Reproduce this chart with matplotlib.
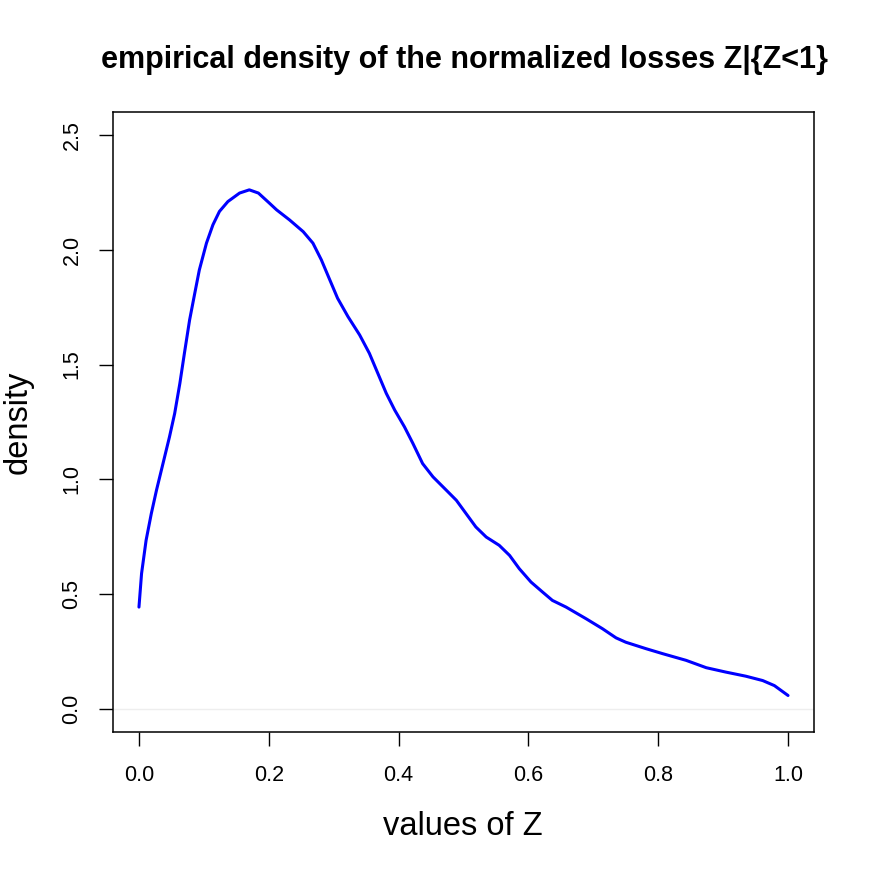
import numpy as np
import matplotlib
matplotlib.use('Agg')
import matplotlib.pyplot as plt

# density curve
z_vals = [0.0, 0.004, 0.011, 0.019, 0.027, 0.037, 0.047, 0.055, 0.063, 0.070,
          0.078, 0.086, 0.093, 0.104, 0.114, 0.124, 0.137, 0.155, 0.170, 0.184,
          0.201, 0.212, 0.232, 0.253, 0.268, 0.281, 0.294, 0.306, 0.322, 0.340,
          0.355, 0.368, 0.381, 0.394, 0.409, 0.422, 0.437, 0.453, 0.476, 0.489,
          0.519, 0.535, 0.555, 0.571, 0.586, 0.604, 0.622, 0.637, 0.658, 0.689,
          0.714, 0.735, 0.750, 0.781, 0.807, 0.843, 0.874, 0.904, 0.935, 0.961,
          0.979, 1.0]
dens = [0.444, 0.590, 0.735, 0.851, 0.953, 1.069, 1.185, 1.287, 1.418, 1.549,
        1.694, 1.811, 1.912, 2.029, 2.109, 2.167, 2.210, 2.247, 2.261, 2.247,
        2.203, 2.174, 2.130, 2.079, 2.029, 1.956, 1.869, 1.789, 1.709, 1.629,
        1.549, 1.462, 1.375, 1.302, 1.229, 1.157, 1.069, 1.011, 0.946, 0.909,
        0.793, 0.749, 0.713, 0.669, 0.611, 0.553, 0.509, 0.473, 0.444, 0.393,
        0.350, 0.310, 0.291, 0.263, 0.241, 0.212, 0.180, 0.161, 0.143, 0.124,
        0.102, 0.059]

xticks = [0.0, 0.2, 0.4, 0.6, 0.8, 1.0]
yticks = [0.0, 0.5, 1.0, 1.5, 2.0, 2.5]

plt.rcParams['font.family'] = ['Liberation Sans', 'DejaVu Sans']

fig = plt.figure(figsize=(8.72, 8.72), dpi=100)
ax = fig.add_axes([113/872, 1 - 732/872, (814-113)/872, (732-112)/872])

ax.axhline(0, color='#eeeeee', lw=1)
ax.plot(z_vals, dens, color='#0000ff', lw=2.2, solid_capstyle='round',
        solid_joinstyle='round')

ax.set_xlim(-0.04, 1.04)
ax.set_ylim(-0.1, 2.6)
ax.set_xticks(xticks)
ax.set_xticklabels(['%.1f' % v for v in xticks])
ax.set_yticks(yticks)
ax.set_yticklabels(['%.1f' % v for v in yticks], rotation=90, va='center')
ax.tick_params(direction='out', length=10, width=1.0, labelsize=15.5)
ax.tick_params(axis='x', pad=14)
ax.tick_params(axis='y', pad=12)
for s in ax.spines.values():
    s.set_linewidth(1.1)

fig.text(463/872, 1 - 826/872, 'values of Z', ha='center', va='center', fontsize=23.5)
fig.text(18/872, 1 - 422/872, 'density', ha='center', va='center',
         rotation=90, fontsize=23.5)
fig.text(464/872, 1 - 60/872, 'empirical density of the normalized losses Z|{Z<1}',
         ha='center', va='center', fontsize=22, fontweight='bold')

fig.savefig('out.png', dpi=100)
